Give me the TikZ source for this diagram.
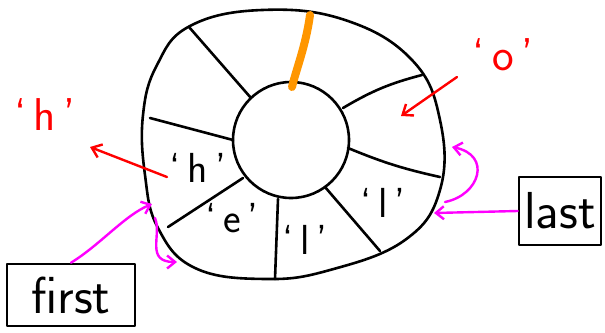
\documentclass[tikz,border=0pt]{standalone}
\usetikzlibrary{arrows.meta}
\definecolor{mag}{RGB}{255,0,255}
\definecolor{org}{RGB}{255,150,0}
\begin{document}
\begin{tikzpicture}[x=1pt,y=-1pt,
  ink/.style={line width=2.6pt,line cap=round,line join=round},
  spoke/.style={ink},
  redarr/.style={line width=2.4pt,red,line cap=round,-{Straight Barb[length=9pt,width=14pt,line width=2.4pt]}},
  magarr/.style={line width=2.4pt,mag,line cap=round,-{Straight Barb[length=8pt,width=13pt,line width=2.4pt]}},
  cell/.style={font=\fontsize{42}{44}\selectfont\sffamily},
  redtxt/.style={font=\fontsize{46}{48}\selectfont\sffamily,red},
  boxnode/.style={ink,draw,minimum width=128pt,minimum height=62pt,inner sep=2pt,font=\fontsize{52}{54}\selectfont\sffamily}]
\useasboundingbox (0,0) rectangle (605,332);
% outer ring
\draw[ink] plot[smooth cycle,tension=0.7] coordinates {(190,26) (262,10) (345,20) (412,60) (440,120) (440,190) (405,240) (330,270) (265,279) (195,268) (158,228) (145,175) (143,115) (157,65)};
% inner circle
\node[ink,draw,circle,minimum size=116pt,inner sep=0pt] (inner) at (291,140) {};
% spokes
\coordinate (o1) at (189,27);  \coordinate (i1) at (251,98);
\coordinate (o3) at (422,75);  \coordinate (i3) at (343,108);
\coordinate (o4) at (440,177); \coordinate (i4) at (348,148);
\coordinate (o5) at (380,251); \coordinate (i5) at (325,187);
\coordinate (o6) at (275,279); \coordinate (i6) at (278,199);
\coordinate (o7) at (168,227); \coordinate (i7) at (243,178);
\coordinate (o8) at (150,118); \coordinate (i8) at (233,140);
\draw[spoke] (i1) -- (o1);
\draw[spoke] (i3) to[bend left=8] (o3);
\draw[spoke] (i4) to[bend right=5] (o4);
\draw[spoke] (i5) -- (o5);
\draw[spoke] (i6) -- (o6);
\draw[spoke] (i7) -- (o7);
\draw[spoke] (i8) -- (o8);
% orange marker
\coordinate (ob) at (292,87); \coordinate (ot) at (310,15);
\draw[org,line width=8pt,line cap=round] (ob) .. controls (296,70) and (306,45) .. (ot);
% cell labels
\node[cell] (ch) at (198,168) {`\,h\,'};
\node[cell] (ce) at (232,218) {`\,e\,'};
\node[cell] (cl1) at (305,240) {`\,l\,'};
\node[cell] (cl2) at (383,203) {`\,l\,'};
% red labels and arrows
\node[redtxt] (rh) at (45,115) {`\,h\,'};
\node[redtxt] (ro) at (503,55) {`\,o\,'};
\coordinate (rhs) at (167,177); \coordinate (rhe) at (90,147);
\draw[redarr] (rhs) -- (rhe);
\coordinate (ros) at (457,77); \coordinate (roe) at (401,116);
\draw[redarr] (ros) -- (roe);
% boxes
\node[boxnode] (first) at (71,295) {first};
\node[boxnode,minimum width=82pt,minimum height=68pt] (last) at (560,211) {last};
% magenta arrows
\coordinate (f1) at (152,204); \coordinate (f2s) at (155,218); \coordinate (f2e) at (177,262);
\draw[magarr] (first.north) .. controls (100,245) and (125,215) .. (f1);
\draw[magarr] (f2s) .. controls (162,235) and (145,262) .. (f2e);
\coordinate (l1) at (434,213);
\draw[magarr] (last.west) -- (l1);
\coordinate (l2s) at (445,202); \coordinate (l2e) at (452,147);
\draw[magarr] (l2s) .. controls (480,195) and (492,155) .. (l2e);
\end{tikzpicture}
\end{document}
